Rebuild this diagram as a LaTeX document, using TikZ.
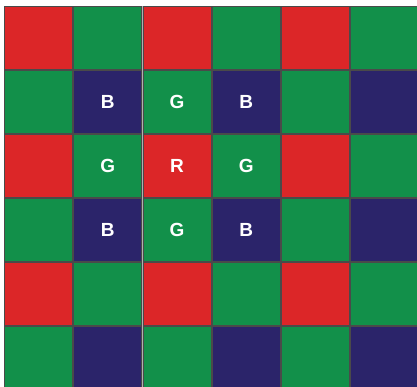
\documentclass[tikz,border=0pt]{standalone}
\usepackage{fontspec}
\setmainfont{Liberation Sans}
\definecolor{cR}{HTML}{DC2628}
\definecolor{cG}{HTML}{12904A}
\definecolor{cB}{HTML}{2B246A}
\definecolor{gapgray}{HTML}{B0B0B0}
\definecolor{edgegray}{HTML}{4A4A4A}
\tikzset{
  cell/.style={draw=edgegray, line width=0.8pt, minimum width=68pt, minimum height=62.8pt, inner sep=0pt},
  R/.style={cell, fill=cR}, G/.style={cell, fill=cG}, B/.style={cell, fill=cB},
  lbl/.style={text=white, inner sep=0pt, font=\fontsize{19}{19}\selectfont\bfseries}
}
\begin{document}
\begin{tikzpicture}[x=1pt,y=1pt]
\useasboundingbox (0,0) rectangle (417,387);
\clip (0,0) rectangle (417,387);
\fill[white] (0,0) rectangle (417,387);
\fill[gapgray] (4,-3) rectangle (420,381);
\def\cw{69.2}
\def\ch{64}
\foreach \row/\pat in {0/{R,G,R,G,R,G},1/{G,B,G,B,G,B},2/{R,G,R,G,R,G},3/{G,B,G,B,G,B},4/{R,G,R,G,R,G},5/{G,B,G,B,G,B}}{
  \foreach \c [count=\col from 0] in \pat {
    \node[\c] (c\row\col) at ({4+\cw*(\col+0.5)},{381-\ch*(\row+0.5)}) {};
  }
}
\node[lbl] (l11) at (c11) {B};
\node[lbl] (l12) at (c12) {G};
\node[lbl] (l13) at (c13) {B};
\node[lbl] (l21) at (c21) {G};
\node[lbl] (l22) at (c22) {R};
\node[lbl] (l23) at (c23) {G};
\node[lbl] (l31) at (c31) {B};
\node[lbl] (l32) at (c32) {G};
\node[lbl] (l33) at (c33) {B};
\end{tikzpicture}
\end{document}
